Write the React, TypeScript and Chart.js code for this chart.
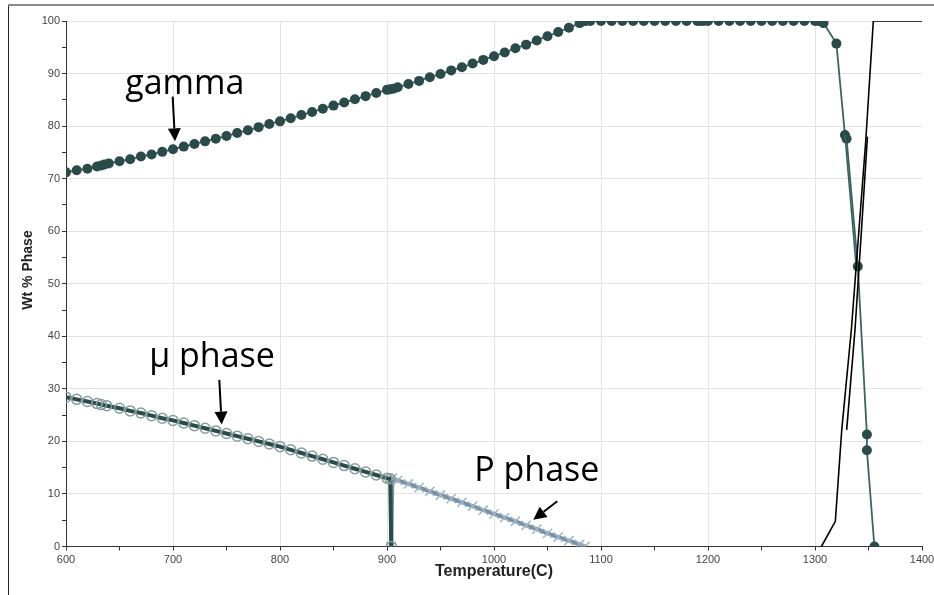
import React, { useEffect, useRef } from 'react';
import { Chart, registerables } from 'chart.js';

Chart.register(...registerables);

// ---------- data ----------
const gammaTemps = [
  600, 610, 620, 629, 633, 636, 640, 650, 660, 670, 680, 690, 700,
  710, 720, 730, 740, 750, 760, 770, 780, 790, 800,
  810, 820, 830, 840, 850, 860, 870, 880, 890, 900, 903, 906,
  910, 920, 930, 940, 950, 960, 970, 980, 990, 1000,
  1010, 1020, 1030, 1040, 1050, 1060, 1070, 1080, 1083, 1086, 1090,
  1100, 1110, 1120, 1130, 1140, 1150, 1160, 1170, 1180, 1190, 1193, 1196,
  1200, 1210, 1220, 1230, 1240, 1250, 1260, 1270, 1280, 1290, 1300, 1303, 1306,
  1308, 1320, 1328, 1329.5, 1340, 1348.5, 1348.5, 1355.5,
];
const gammaValues = [
  71.2, 71.6, 71.9, 72.3, 72.5, 72.7, 72.9, 73.3, 73.7, 74.2, 74.6, 75.1, 75.6,
  76.1, 76.6, 77.1, 77.6, 78.1, 78.7, 79.2, 79.8, 80.4, 80.9,
  81.5, 82.1, 82.7, 83.3, 83.9, 84.5, 85.1, 85.7, 86.3, 86.9, 87.0, 87.1,
  87.4, 88.0, 88.6, 89.3, 89.9, 90.6, 91.2, 91.9, 92.6, 93.3,
  94.0, 94.8, 95.5, 96.3, 97.1, 97.9, 98.7, 99.6, 99.9, 100, 100,
  100, 100, 100, 100, 100, 100, 100, 100, 100, 100, 100, 100,
  100, 100, 100, 100, 100, 100, 100, 100, 100, 100, 100, 100, 100,
  99.6, 95.7, 78.3, 77.6, 53.3, 21.3, 18.3, 0,
];
const gammaBranchTemps = [1328, 1338.5];
const gammaBranchValues = [78.3, 53.3];

const muTemps = [
  600, 610, 620, 629, 633, 638, 650, 660, 670, 680, 690, 700,
  710, 720, 730, 740, 750, 760, 770, 780, 790, 800,
  810, 820, 830, 840, 850, 860, 870, 880, 890, 900, 903, 904,
];
const muValues = [
  28.4, 28.0, 27.6, 27.2, 27.0, 26.8, 26.3, 25.8, 25.4, 24.9, 24.4, 24.0,
  23.5, 23.0, 22.5, 22.0, 21.5, 21.0, 20.5, 20.0, 19.5, 19.0,
  18.4, 17.8, 17.2, 16.6, 16.0, 15.4, 14.8, 14.2, 13.6, 13.0, 12.9, 0,
];

const pTemps = [
  904, 905, 910, 920, 930, 940, 950, 960, 970, 980, 990, 1000,
  1010, 1020, 1030, 1040, 1050, 1060, 1070, 1080, 1085,
];
const pValues = [
  0, 13.0, 12.6, 11.9, 11.2, 10.5, 9.8, 9.1, 8.4, 7.7, 6.9, 6.2,
  5.5, 4.8, 4.0, 3.3, 2.5, 1.8, 1.1, 0.4, 0,
];

const liquidTemps = [1306, 1319, 1325, 1334, 1347.5, 1354.5, 1400];
const liquidValues = [0, 4.8, 22.2, 41.3, 77.4, 100, 100];
const liquidBranchTemps = [1329.6, 1337.4, 1344, 1349];
const liquidBranchValues = [22.2, 41.3, 62, 78];

const xMin = 600;
const xMax = 1400;
const xMinorStep = 50;
const xMajorStep = 100;
const yMin = 0;
const yMax = 100;
const yMinorStep = 5;
const yMajorStep = 10;

const xTitle = 'Temperature(C)';
const yTitle = 'Wt % Phase';

// annotation labels (data coordinates)
const noteTexts = ['gamma', 'μ phase', 'P phase'];
const noteX = [711, 736.5, 1040];
const noteY = [86.1, 34.2, 12.5];
// arrows: from (x0,y0) to tip (x1,y1), data coordinates
const arrowX0 = [699.7, 743.3, 1059.2];
const arrowY0 = [85.6, 31.7, 8.6];
const arrowX1 = [701.9, 745.5, 1036.7];
const arrowY1 = [77.1, 23.2, 5.1];

const pts = (xs: number[], ys: number[]) => xs.map((x, i) => ({ x, y: ys[i] }));

const TEAL_DARK = '#2b4a4a';
const TEAL_LINE = '#3c6262';
const SANS = '"Liberation Sans", Arial, sans-serif';

const framePlugin = {
  id: 'frame',
  beforeDraw(chart: any) {
    const { ctx, width, height } = chart;
    ctx.save();
    ctx.fillStyle = '#ffffff';
    ctx.fillRect(0, 0, width, height);
    ctx.strokeStyle = '#222';
    ctx.lineWidth = 1;
    ctx.beginPath();
    ctx.moveTo(8.5, 5);
    ctx.lineTo(8.5, height);
    ctx.stroke();
    ctx.strokeStyle = '#8a8a8a';
    ctx.lineWidth = 2;
    ctx.beginPath();
    ctx.moveTo(8, 5);
    ctx.lineTo(width, 5);
    ctx.stroke();
    ctx.restore();
  },
  afterDraw(chart: any) {
    const { ctx } = chart;
    ctx.save();
    ctx.translate(28, 270);
    ctx.rotate(-Math.PI / 2);
    ctx.fillStyle = '#222';
    ctx.font = `bold 14px ${SANS}`;
    ctx.textAlign = 'center';
    ctx.textBaseline = 'middle';
    ctx.fillText(yTitle, 0, 0);
    ctx.restore();
  },
};

const notePlugin = {
  id: 'notes',
  afterDatasetsDraw(chart: any) {
    const { ctx } = chart;
    const xs = chart.scales.x;
    const ys = chart.scales.y;
    ctx.save();
    ctx.fillStyle = '#000';
    ctx.strokeStyle = '#000';
    ctx.font = '34px "Open Sans"';
    ctx.textAlign = 'center';
    ctx.textBaseline = 'alphabetic';
    noteTexts.forEach((t, i) => {
      ctx.fillText(t, xs.getPixelForValue(noteX[i]), ys.getPixelForValue(noteY[i]));
    });
    ctx.lineWidth = 2;
    for (let i = 0; i < arrowX0.length; i++) {
      const x0 = xs.getPixelForValue(arrowX0[i]);
      const y0 = ys.getPixelForValue(arrowY0[i]);
      const x1 = xs.getPixelForValue(arrowX1[i]);
      const y1 = ys.getPixelForValue(arrowY1[i]);
      const ang = Math.atan2(y1 - y0, x1 - x0);
      const headLen = 13;
      const headHalf = 6.5;
      const bx = x1 - headLen * Math.cos(ang);
      const by = y1 - headLen * Math.sin(ang);
      ctx.beginPath();
      ctx.moveTo(x0, y0);
      ctx.lineTo(bx, by);
      ctx.stroke();
      ctx.beginPath();
      ctx.moveTo(x1, y1);
      ctx.lineTo(bx + headHalf * Math.sin(ang), by - headHalf * Math.cos(ang));
      ctx.lineTo(bx - headHalf * Math.sin(ang), by + headHalf * Math.cos(ang));
      ctx.closePath();
      ctx.fill();
    }
    ctx.restore();
  },
};

const tickFont = { family: SANS, size: 11 };

export default function App() {
  const ref = useRef<HTMLCanvasElement>(null);
  useEffect(() => {
    if (!ref.current) return;
    const chart = new Chart(ref.current, {
      type: 'scatter',
      data: {
        datasets: [
          {
            label: 'liquid',
            data: pts(liquidTemps, liquidValues),
            showLine: true,
            borderColor: '#000',
            borderWidth: 1.6,
            pointRadius: 0,
          },
          {
            label: 'liquid branch',
            data: pts(liquidBranchTemps, liquidBranchValues),
            showLine: true,
            borderColor: '#000',
            borderWidth: 1.6,
            pointRadius: 0,
          },
          {
            label: 'gamma branch',
            data: pts(gammaBranchTemps, gammaBranchValues),
            showLine: true,
            borderColor: TEAL_LINE,
            borderWidth: 1.6,
            pointRadius: 0,
          },
          {
            label: 'gamma',
            data: pts(gammaTemps, gammaValues),
            showLine: true,
            borderColor: TEAL_LINE,
            borderWidth: 1.8,
            pointRadius: 5,
            pointStyle: 'circle',
            pointBackgroundColor: TEAL_DARK,
            pointBorderColor: TEAL_DARK,
            pointBorderWidth: 0,
          },
          {
            label: 'mu',
            data: pts(muTemps, muValues),
            showLine: true,
            borderColor: TEAL_DARK,
            borderWidth: 4,
            pointRadius: 5,
            pointStyle: 'circle',
            pointBackgroundColor: 'rgba(0,0,0,0)',
            pointBorderColor: '#849c9c',
            pointBorderWidth: 1.5,
          },
          {
            label: 'P',
            data: pts(pTemps, pValues),
            showLine: true,
            borderColor: '#7a8ea2',
            borderWidth: 4,
            pointRadius: 6.5,
            pointStyle: 'crossRot',
            pointBorderColor: '#9fb4c8',
            pointBorderWidth: 1.5,
          },
        ],
      },
      options: {
        responsive: false,
        animation: false,
        devicePixelRatio: 1,
        layout: { padding: { left: 0, right: 12, top: 21, bottom: 0 } },
        plugins: { legend: { display: false }, tooltip: { enabled: false } },
        elements: { line: { tension: 0 } },
        scales: {
          x: {
            type: 'linear',
            min: xMin,
            max: xMax,
            ticks: {
              stepSize: xMinorStep,
              autoSkip: false,
              maxRotation: 0,
              padding: 3,
              color: '#444',
              font: tickFont,
              callback: (v: any) => (Number(v) % xMajorStep === 0 ? String(v) : ''),
            },
            grid: {
              color: (c: any) =>
                c.tick && c.tick.value % xMajorStep === 0 && c.tick.value !== xMax && c.tick.value !== xMin
                  ? '#e3e3e3'
                  : 'rgba(0,0,0,0)',
              tickColor: '#333',
              tickLength: 4,
              lineWidth: 1,
            },
            border: { display: true, color: '#333', width: 1 },
            title: {
              display: true,
              text: xTitle,
              color: '#222',
              font: { family: SANS, size: 16, weight: 'bold' },
              padding: { top: 0, bottom: 14 },
            },
            afterFit: (s: any) => {
              s.height = 48.5;
              s.paddingLeft = 0;
              s.paddingRight = 0;
            },
          },
          y: {
            type: 'linear',
            min: yMin,
            max: yMax,
            ticks: {
              stepSize: yMinorStep,
              autoSkip: false,
              padding: 2,
              color: '#444',
              font: tickFont,
              callback: (v: any) => (Number(v) % yMajorStep === 0 ? String(v) : ''),
            },
            grid: {
              color: (c: any) =>
                c.tick && c.tick.value % yMajorStep === 0 && c.tick.value !== yMin ? '#e3e3e3' : 'rgba(0,0,0,0)',
              tickColor: '#333',
              tickLength: 4,
              lineWidth: 1,
            },
            border: { display: true, color: '#333', width: 1 },
            title: { display: false },
            afterFit: (s: any) => {
              s.width = 66;
              s.paddingTop = 0;
              s.paddingBottom = 0;
            },
          },
        },
      },
      plugins: [framePlugin, notePlugin],
    });
    return () => chart.destroy();
  }, []);
  return (
    <div style={{ position: 'absolute', left: 0, top: 0, width: 934, height: 595, background: '#fff' }}>
      <canvas ref={ref} width={934} height={595} style={{ display: 'block', width: 934, height: 595 }} />
    </div>
  );
}
